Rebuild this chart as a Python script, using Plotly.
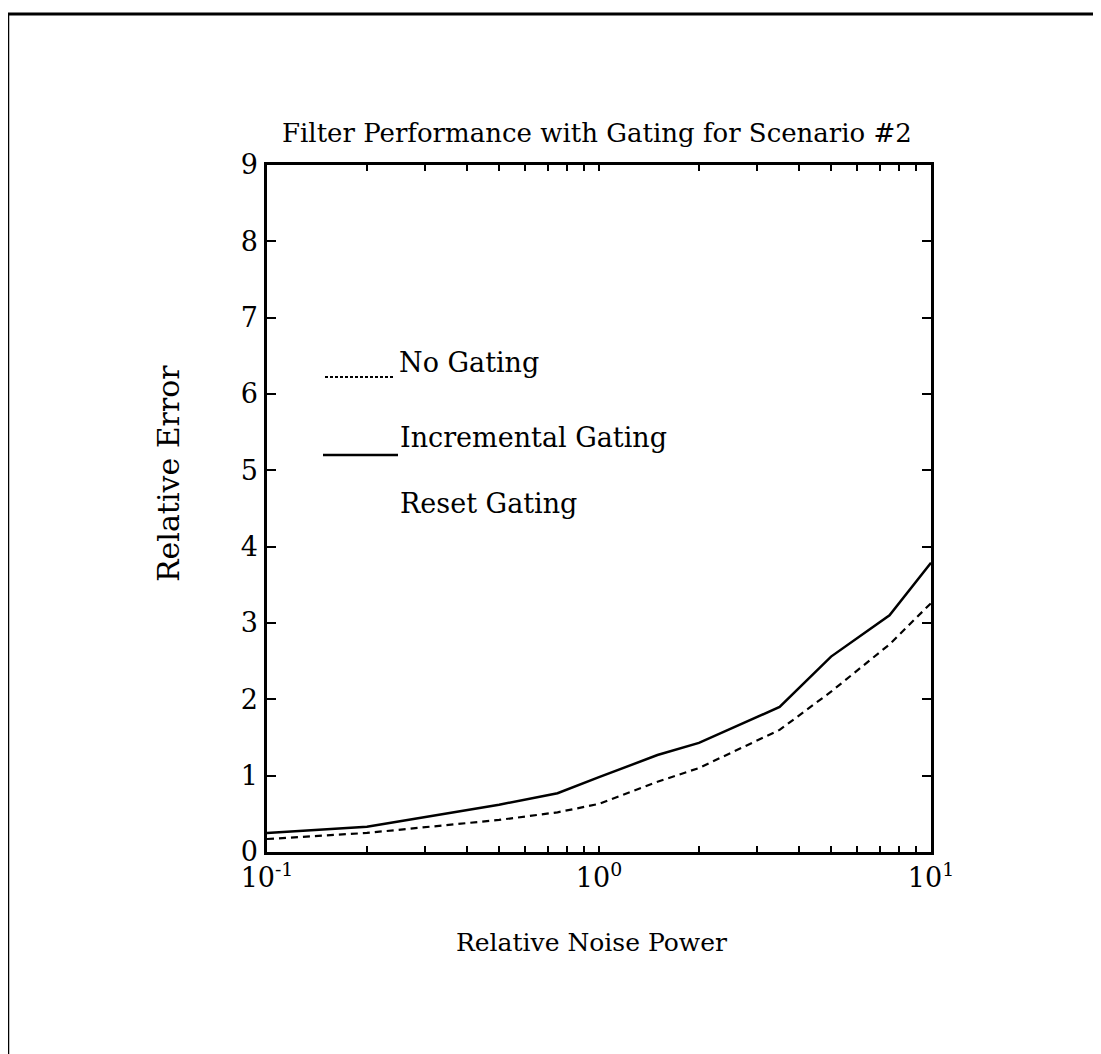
import plotly.graph_objects as go

# ---- data ----
noise_power = [0.1, 0.2, 0.5, 0.75, 1.0, 1.5, 2.0, 3.5, 5.0, 7.5, 10.0]
no_gating = [0.17, 0.25, 0.42, 0.52, 0.63, 0.92, 1.10, 1.60, 2.10, 2.72, 3.26]
incremental_gating = [0.25, 0.33, 0.62, 0.77, 0.98, 1.27, 1.43, 1.90, 2.56, 3.10, 3.79]
series_names = ["No Gating", "Incremental Gating", "Reset Gating"]

x_tick_vals = [0.1, 0.2, 0.3, 0.4, 0.5, 0.6, 0.7, 0.8, 0.9,
               1, 2, 3, 4, 5, 6, 7, 8, 9, 10]
x_tick_text = ["10<sup>-1</sup>", "", "", "", "", "", "", "", "",
               "10<sup>0</sup>", "", "", "", "", "", "", "", "", "10<sup>1</sup>"]
y_tick_vals = [0, 1, 2, 3, 4, 5, 6, 7, 8, 9]

title_text = "Filter Performance with Gating for Scenario #2"
x_title = "Relative Noise Power"
y_title = "Relative Error"

# ---- layout geometry (page pixels; the page body has an 8px margin) ----
OFF = 8
W, H = 1101 - OFF, 1054 - OFF
L, R, T, B = 267 - OFF, 931 - OFF, 165 - OFF, 852 - OFF
FONT = "DejaVu Serif"


def px(x):
    return (x - OFF - L) / (R - L)


def py(y):
    return (B - (y - OFF)) / (B - T)


fig = go.Figure()
fig.add_trace(go.Scatter(x=noise_power, y=no_gating, mode="lines", name=series_names[0],
                         line=dict(color="black", width=2.2, dash="7px,5px")))
fig.add_trace(go.Scatter(x=noise_power, y=incremental_gating, mode="lines", name=series_names[1],
                         line=dict(color="black", width=2.5)))

axis_common = dict(showgrid=False, zeroline=False, showline=True, linecolor="black",
                   linewidth=2.5, mirror="ticks", ticks="inside", tickcolor="black",
                   tickwidth=2, tickfont=dict(family=FONT, size=27, color="black"))

fig.update_xaxes(type="log", range=[-1, 1], tickmode="array", tickvals=x_tick_vals,
                 ticktext=x_tick_text, ticklen=6, **axis_common)
fig.update_yaxes(range=[0, 9], tickmode="array", tickvals=y_tick_vals,
                 ticklen=9, ticklabelstandoff=1, **axis_common)

shapes = [
    # page frame (top and left edges)
    dict(type="line", xref="paper", yref="paper", x0=px(8), x1=px(1101), y0=py(14), y1=py(14),
         line=dict(color="black", width=3)),
    dict(type="line", xref="paper", yref="paper", x0=px(8), x1=px(8), y0=py(14), y1=py(1054),
         line=dict(color="black", width=2.5)),
    # legend samples
    dict(type="line", xref="paper", yref="paper", x0=px(325), x1=px(395), y0=py(377), y1=py(377),
         line=dict(color="black", width=2, dash="3px,2px")),
    dict(type="line", xref="paper", yref="paper", x0=px(323), x1=px(398), y0=py(455), y1=py(455),
         line=dict(color="black", width=2.5)),
]

annotations = [
    dict(text=title_text, x=px(597), y=py(133), xref="paper", yref="paper",
         xanchor="center", yanchor="middle",
         showarrow=False, font=dict(family=FONT, size=26, color="black")),
    dict(text=x_title, x=px(591), y=py(942), xref="paper", yref="paper",
         xanchor="center", yanchor="middle",
         showarrow=False, font=dict(family=FONT, size=25, color="black")),
    dict(text=y_title, x=px(168), y=py(474), xref="paper", yref="paper", textangle=-90,
         xanchor="center", yanchor="middle",
         showarrow=False, font=dict(family=FONT, size=30, color="black")),
]
legend_pos = [(397, 362), (398, 437), (398, 503)]
for name, (lx, ly) in zip(series_names, legend_pos):
    annotations.append(dict(text=name, x=px(lx), y=py(ly), xref="paper", yref="paper",
                            xanchor="left", yanchor="middle", showarrow=False,
                            font=dict(family=FONT, size=27, color="black")))

fig.update_layout(width=W, height=H, margin=dict(l=L, r=W - R, t=T, b=H - B, pad=0),
                  paper_bgcolor="white", plot_bgcolor="white", showlegend=False,
                  shapes=shapes, annotations=annotations)

fig.write_html("out.html")
